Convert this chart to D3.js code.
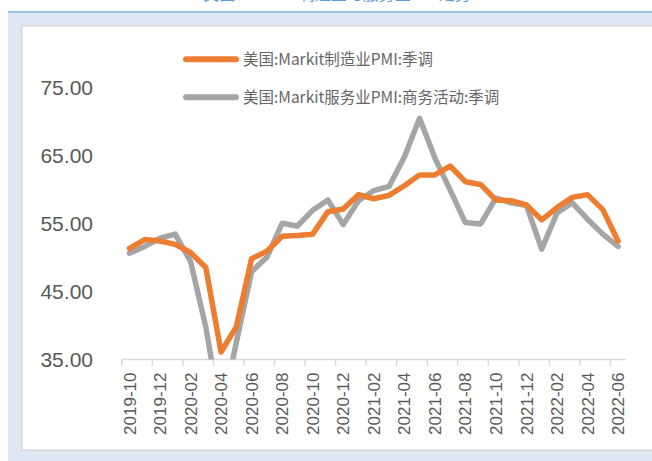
<!DOCTYPE html>
<html lang="zh">
<head>
<meta charset="UTF-8">
<title>美国Markit PMI</title>
<script src="https://d3js.org/d3.v7.min.js"></script>
<style>
  body { margin: 0; background: #fff; }
  svg { display: block; }
</style>
</head>
<body>
<div id="chart"></div>
<script>
const months = ["2019-10","2019-11","2019-12","2020-01","2020-02","2020-03","2020-04","2020-05","2020-06",
  "2020-07","2020-08","2020-09","2020-10","2020-11","2020-12","2021-01","2021-02","2021-03","2021-04",
  "2021-05","2021-06","2021-07","2021-08","2021-09","2021-10","2021-11","2021-12","2022-01","2022-02",
  "2022-03","2022-04","2022-05","2022-06"];
const manufacturing = [51.3,52.6,52.4,51.9,50.7,48.5,36.1,39.8,49.8,50.9,53.1,53.2,53.4,56.7,57.1,59.2,58.6,
  59.1,60.5,62.1,62.1,63.4,61.1,60.7,58.4,58.3,57.7,55.5,57.3,58.8,59.2,57.0,52.4];
const services = [50.6,51.6,52.8,53.4,49.4,39.8,26.7,37.5,47.9,50.0,55.0,54.6,56.9,58.4,54.8,58.3,59.8,
  60.4,64.7,70.4,64.6,59.9,55.1,54.9,58.7,58.0,57.6,51.2,56.5,58.0,55.6,53.4,51.6];
const yTicks = [35, 45, 55, 65, 75];
const seriesNames = ["美国:Markit制造业PMI:季调", "美国:Markit服务业PMI:商务活动:季调"];
const colors = ["#ED7D31", "#A5A5A5"];

const w = 652, h = 461;
const padL = 121.8, padR = 625.7, padT = 87, padB = 359.5;

const svg = d3.select("#chart").append("svg")
  .attr("width", w)
  .attr("height", h);

// frame: blue band + white panel
svg.append("rect").attr("x", 8).attr("y", 11).attr("width", w - 8).attr("height", h - 11).attr("fill", "#dde8f4");
svg.append("rect").attr("x", 8).attr("y", 11).attr("width", w - 8).attr("height", 2).attr("fill", "#9dc3e6");
svg.append("rect").attr("x", 21).attr("y", 25).attr("width", w - 21).attr("height", 426).attr("fill", "#d4d4d4");
svg.append("rect").attr("x", 22.5).attr("y", 26.5).attr("width", w - 22.5).attr("height", 423).attr("fill", "#fff");

// title of the picture above, cut off at the top edge
svg.append("text")
  .attr("x", 337).attr("y", -0.5)
  .attr("text-anchor", "middle")
  .style("font-family", "'Noto Sans CJK SC', sans-serif")
  .style("font-size", "16px")
  .attr("fill", "#5b9bd5")
  .text("美国：Markit制造业与服务业PMI走势");

const x = d3.scaleBand().domain(months).range([padL, padR]).padding(0);
const y = d3.scaleLinear().domain([35, 75]).range([padB, padT]);
const cx = d => x(d) + x.bandwidth() / 2;

// y tick labels
svg.selectAll(".ylab").data(yTicks).enter().append("text")
  .attr("class", "ylab")
  .attr("x", 93)
  .attr("y", d => y(d))
  .attr("dy", "0.36em")
  .attr("text-anchor", "end")
  .style("font-family", "'Liberation Sans', Arial, sans-serif")
  .style("font-size", "21px")
  .attr("fill", "#595959")
  .text(d => d3.format(".2f")(d));

// x axis
svg.append("line")
  .attr("x1", padL).attr("x2", padR)
  .attr("y1", y(35)).attr("y2", y(35))
  .attr("stroke", "#d9d9d9").attr("stroke-width", 1.5);

const shown = months.filter((m, i) => i % 2 === 0);
svg.selectAll(".xtick").data(shown).enter().append("line")
  .attr("x1", d => x(d)).attr("x2", d => x(d))
  .attr("y1", y(35)).attr("y2", y(35) + 6)
  .attr("stroke", "#d9d9d9").attr("stroke-width", 1.5);

svg.selectAll(".xlab").data(shown).enter().append("text")
  .attr("transform", d => `translate(${cx(d)},${y(35) + 13}) rotate(-90)`)
  .attr("dy", "0.36em")
  .attr("text-anchor", "end")
  .style("font-family", "'Liberation Sans', Arial, sans-serif")
  .style("font-size", "17px")
  .attr("fill", "#595959")
  .text(d => d);

// lines, clipped to the plot area
svg.append("clipPath").attr("id", "plot")
  .append("rect").attr("x", padL - 10).attr("y", 26).attr("width", padR - padL + 20).attr("height", padB - 26);

const line = d3.line().x((d, i) => cx(months[i])).y(d => y(d));

[services, manufacturing].forEach((vals, k) => {
  svg.append("path")
    .datum(vals)
    .attr("clip-path", "url(#plot)")
    .attr("fill", "none")
    .attr("stroke", k === 0 ? colors[1] : colors[0])
    .attr("stroke-width", 5.5)
    .attr("stroke-linejoin", "round")
    .attr("stroke-linecap", "round")
    .attr("d", line);
});

// legend
seriesNames.forEach((name, i) => {
  const ly = 59.3 + i * 38;
  svg.append("line")
    .attr("x1", 186).attr("x2", 236)
    .attr("y1", ly).attr("y2", ly)
    .attr("stroke", colors[i]).attr("stroke-width", 6)
    .attr("stroke-linecap", "round");
  svg.append("text")
    .attr("x", 243).attr("y", ly)
    .attr("dy", "0.36em")
    .style("font-family", "'Noto Sans CJK SC', sans-serif")
    .style("font-size", "15.5px")
    .attr("fill", "#666")
    .text(name);
});
</script>
</body>
</html>
